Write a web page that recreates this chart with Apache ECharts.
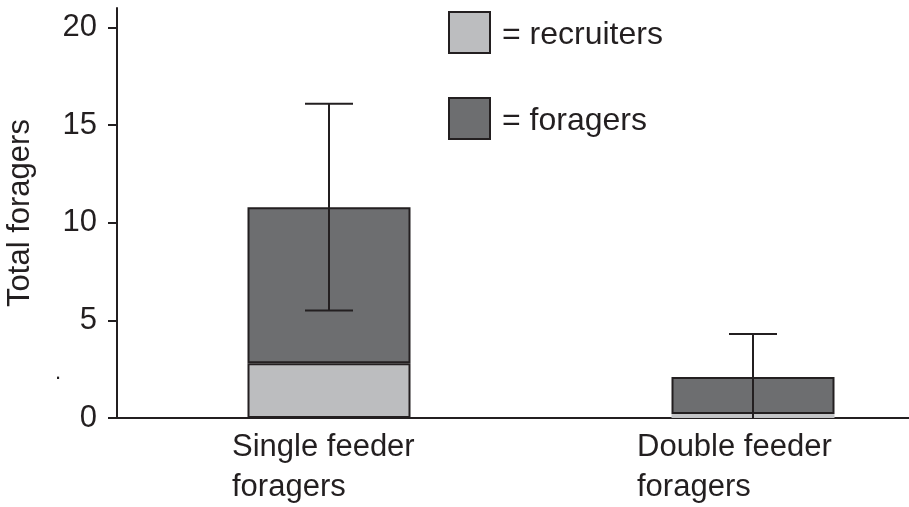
<!DOCTYPE html>
<html>
<head>
<meta charset="utf-8">
<script src="https://cdn.jsdelivr.net/npm/echarts@6/dist/echarts.min.js"></script>
<style>
  html, body { margin: 0; padding: 0; background: #fff; }
  #chart { width: 909px; height: 507px; }
</style>
</head>
<body>
<div id="chart"></div>
<script>
const categories = ['Single feeder\nforagers', 'Double feeder\nforagers'];
const recruiters = [2.8, 0.2];
const foragers = [8.0, 1.9]; // stacked on top of recruiters (totals 10.8, 2.1)
const errLow = [5.5, 0];
const errHigh = [16.1, 4.3];
const yTicks = [0, 5, 10, 15, 20];

const ink = '#231f20';
const font = 'Liberation Sans, Arial, sans-serif';
const fs = 31;

const chart = echarts.init(document.getElementById('chart'));

const errData = categories.map((c, i) => [i, errLow[i], errHigh[i]]);

// left aligned two-line labels, block widths tuned per bar
const labelBlock = ['a', 'b'];

const option = {
  backgroundColor: '#fff',
  animation: false,
  grid: {
    left: 117,
    right: -56,
    top: 8,
    bottom: 89,
    outerBoundsMode: 'none'
  },
  legend: {
    orient: 'vertical',
    left: 448,
    top: 11,
    padding: 0,
    itemWidth: 41,
    itemHeight: 41,
    itemGap: 43,
    icon: 'rect',
    selectedMode: false,
    formatter: name => '{g|}{t|= ' + name + '}',
    textStyle: {
      fontSize: 32, color: ink, fontFamily: font,
      rich: {
        g: { width: 7 },
        t: { fontSize: 32, color: ink, fontFamily: font, padding: [6, 0, 0, 0] }
      }
    },
    data: ['recruiters', 'foragers']
  },
  xAxis: {
    type: 'category',
    data: categories,
    axisLine: { lineStyle: { color: ink, width: 2 } },
    axisTick: { show: false },
    axisLabel: {
      color: ink,
      fontSize: fs,
      fontFamily: font,
      lineHeight: 40,
      margin: 9,
      align: 'center',
      formatter: (v, i) => v.split('\n').map(s => '{' + labelBlock[i] + '|' + s + '}').join('\n'),
      rich: {
        a: { fontSize: fs, fontFamily: font, color: ink, lineHeight: 40, width: 194, align: 'left' },
        b: { fontSize: fs, fontFamily: font, color: ink, lineHeight: 40, width: 232, align: 'left' }
      }
    }
  },
  yAxis: {
    type: 'value',
    min: 0,
    max: 21,
    interval: 5,
    name: 'Total foragers',
    nameLocation: 'middle',
    nameRotate: 90,
    nameGap: 81,
    nameTextStyle: { fontSize: fs, color: ink, fontFamily: font },
    axisLine: { show: true, lineStyle: { color: ink, width: 2 } },
    axisTick: { show: true, length: 9, lineStyle: { color: ink, width: 2 }, customValues: yTicks },
    axisLabel: { color: ink, fontSize: fs, fontFamily: font, margin: 20, customValues: yTicks },
    splitLine: { show: false }
  },
  series: [
    {
      name: 'recruiters',
      type: 'bar',
      stack: 'total',
      barWidth: 163,
      z: 3,
      itemStyle: { color: '#bcbdbf', borderColor: ink, borderWidth: 2 },
      // the thin strip under the second bar has no outline
      data: recruiters.map((v, i) => i === 1
        ? { value: v, itemStyle: { borderWidth: 0, color: '#c3c4c6' } }
        : v)
    },
    {
      name: 'foragers',
      type: 'bar',
      stack: 'total',
      barWidth: 163,
      itemStyle: { color: '#6d6e70', borderColor: ink, borderWidth: 2 },
      data: foragers
    },
    {
      name: 'error',
      type: 'custom',
      z: 10,
      data: errData,
      renderItem: (params, api) => {
        const x = api.value(0);
        const lo = api.coord([x, api.value(1)]);
        const hi = api.coord([x, api.value(2)]);
        const half = 24;
        const style = { stroke: ink, lineWidth: 2 };
        const children = [
          { type: 'line', shape: { x1: lo[0], y1: lo[1], x2: hi[0], y2: hi[1] }, style },
          { type: 'line', shape: { x1: hi[0] - half, y1: hi[1], x2: hi[0] + half, y2: hi[1] }, style }
        ];
        if (api.value(1) > 0) {
          children.push({ type: 'line', shape: { x1: lo[0] - half, y1: lo[1], x2: lo[0] + half, y2: lo[1] }, style });
        }
        return { type: 'group', children };
      }
    }
  ],
  graphic: [
    { type: 'text', left: 55, top: 362, style: { text: '.', fontSize: 22, fill: ink, fontFamily: font } }
  ]
};

chart.setOption(option);
</script>
</body>
</html>
